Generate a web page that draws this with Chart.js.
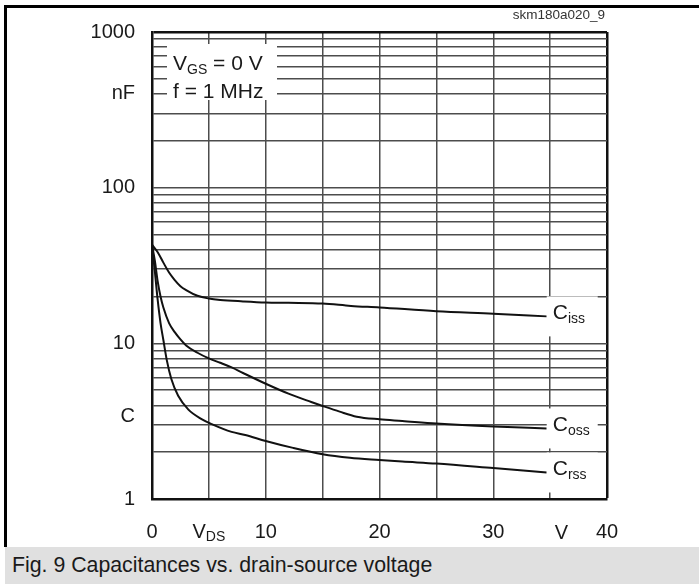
<!DOCTYPE html>
<html>
<head>
<meta charset="utf-8">
<script src="https://cdn.jsdelivr.net/npm/chart.js@4.4.1/dist/chart.umd.min.js"></script>
<style>
  html, body { margin: 0; padding: 0; background: #fff; }
  body {
    width: 699px; height: 584px; position: relative; overflow: hidden;
    font-family: "Liberation Sans", Arial, sans-serif;
  }
  #c { position: absolute; left: 0; top: 0; }
  #frame {
    position: absolute; left: 4px; top: 5px; right: 0; height: 542px;
    box-sizing: border-box; border-left: 3px solid #000; border-top: 3px solid #000;
    pointer-events: none;
  }
  #code {
    position: absolute; right: 94px; top: 8px; font-size: 13.5px; line-height: 14px; color: #333;
  }
  #caption {
    position: absolute; left: 5px; top: 547px; right: 0; height: 37px;
    background: #e0e0e0; color: #1a1a1a; font-size: 21.3px; line-height: 37px; padding-left: 7px;
  }
</style>
</head>
<body>
<canvas id="c" width="699" height="547"></canvas>
<div id="frame"></div>
<div id="code">skm180a020_9</div>
<div id="caption">Fig. 9 Capacitances vs. drain-source voltage</div>
<script>
  "use strict";

  const FONT = '"Liberation Sans", Arial, sans-serif';
  const INK = "#1a1a1a";

  // Ciss, Coss, Crss in nF against V_DS in V
  const cissV = [0, 0.5, 1, 1.5, 2, 2.5, 3, 4, 5, 6, 8, 10, 12, 15, 17.5, 20, 25, 30, 34.7];
  const cissC = [43, 38.5, 33, 28.5, 25.5, 23.3, 22, 20.2, 19.4, 19, 18.6, 18.3, 18.2, 18.0, 17.4, 17.0, 16.1, 15.5, 14.9];

  const cossV = [0, 0.25, 0.5, 0.75, 1, 1.5, 2, 2.5, 3, 4, 5, 6, 7, 8, 10, 12, 14, 15, 16.5, 18, 20, 22, 25, 30, 34.7];
  const cossC = [43, 34, 25, 20, 17, 13.5, 11.8, 10.6, 9.7, 8.7, 8.0, 7.5, 7.0, 6.45, 5.5, 4.75, 4.2, 3.96, 3.64, 3.38, 3.25, 3.17, 3.05, 2.92, 2.84];

  const crssV = [0, 0.25, 0.5, 0.75, 1, 1.3, 1.7, 2.3, 3.2, 4.4, 5.25, 7, 8.2, 10, 12.4, 15, 17.4, 20, 22, 25, 30, 34.7];
  const crssC = [43, 29, 19, 13.5, 10.5, 7.8, 5.9, 4.6, 3.75, 3.25, 3.03, 2.7, 2.58, 2.36, 2.13, 1.94, 1.84, 1.78, 1.74, 1.69, 1.58, 1.48];

  const seriesSubs = ["iss", "oss", "rss"];

  // axes
  const yGridValues = [1, 2, 3, 4, 5, 6, 7, 8, 9, 10, 20, 30, 40, 50, 60, 70, 80, 90,
    100, 200, 300, 400, 500, 600, 700, 800, 900, 1000];
  const yLabelValues = [1, 3.4, 10, 100, 400, 1000];
  const yLabelTexts = ["1", "C", "10", "100", "nF", "1000"];
  const xLabelValues = [0, 10, 20, 30, 40];
  const xLabelTexts = ["0", "10", "20", "30", "40"];
  const xTitleValues = [5, 36];

  function pts(xs, ys) {
    return xs.map((x, i) => ({ x: x, y: ys[i] }));
  }

  function curve(xs, ys) {
    return {
      data: pts(xs, ys),
      borderColor: "#111",
      borderWidth: 2,
      pointRadius: 0,
      fill: false,
      cubicInterpolationMode: "monotone",
    };
  }

  // main text, lowered smaller subscript, then optional tail
  function subText(ctx, x, y, main, sub, tail, size) {
    ctx.textAlign = "left";
    ctx.textBaseline = "middle";
    ctx.font = size + "px " + FONT;
    ctx.fillText(main, x, y);
    let w = ctx.measureText(main).width;
    const ss = Math.round(size * 0.68);
    ctx.font = ss + "px " + FONT;
    ctx.fillText(sub, x + w, y + size * 0.27);
    w += ctx.measureText(sub).width;
    if (tail) {
      ctx.font = size + "px " + FONT;
      ctx.fillText(tail, x + w, y);
      w += ctx.measureText(tail).width;
    }
    return w;
  }

  function measureSub(ctx, main, sub, size) {
    ctx.font = size + "px " + FONT;
    let w = ctx.measureText(main).width;
    ctx.font = Math.round(size * 0.68) + "px " + FONT;
    return w + ctx.measureText(sub).width;
  }

  const notes = {
    id: "notes",
    afterDatasetsDraw(chart) {
      const ctx = chart.ctx;
      const a = chart.chartArea;
      const sx = chart.scales.x;
      const sy = chart.scales.y;
      ctx.save();

      // condition box, upper left
      ctx.fillStyle = "#fff";
      ctx.fillRect(a.left + 15, a.top + 12, 110, 56);
      ctx.fillStyle = INK;
      subText(ctx, a.left + 21, a.top + 32, "V", "GS", " = 0 V", 21);
      ctx.font = "21px " + FONT;
      ctx.fillText("f = 1 MHz", a.left + 21, a.top + 60);

      // curve names at the right ends
      chart.data.datasets.forEach((ds, i) => {
        const last = ds.data[ds.data.length - 1];
        const px = sx.getPixelForValue(last.x);
        const py = sy.getPixelForValue(last.y);
        ctx.fillStyle = "#fff";
        ctx.fillRect(px, py - 20, 51, 40);
        ctx.fillStyle = INK;
        subText(ctx, px + 6, py - 3, "C", seriesSubs[i], "", 21);
      });

      // axis names inside the tick row
      const ty = a.bottom + 33;
      ctx.fillStyle = INK;
      const wds = measureSub(ctx, "V", "DS", 20);
      subText(ctx, sx.getPixelForValue(xTitleValues[0]) - wds / 2, ty, "V", "DS", "", 20);
      ctx.font = "20px " + FONT;
      ctx.textAlign = "center";
      ctx.fillText("V", sx.getPixelForValue(xTitleValues[1]), ty + 1);
      ctx.restore();
    },
  };

  const GRID = "#4d4d4d";
  const EDGE = "#111";

  new Chart(document.getElementById("c"), {
    type: "line",
    data: {
      datasets: [curve(cissV, cissC), curve(cossV, cossC), curve(crssV, crssC)],
    },
    options: {
      responsive: false,
      animation: false,
      layout: { padding: { left: 0, top: 32, right: 92, bottom: 0 } },
      plugins: { legend: { display: false }, tooltip: { enabled: false } },
      scales: {
        x: {
          type: "linear",
          min: 0,
          max: 40,
          afterFit: function (s) { s.height = 48; },
          border: { display: true, color: EDGE, width: 2.5 },
          grid: {
            drawTicks: false,
            tickLength: 0,
            color: (c) => (c.tick && c.tick.value === 40 ? EDGE : GRID),
            lineWidth: (c) => (c.tick && c.tick.value === 40 ? 2.5 : 1.5),
          },
          ticks: {
            stepSize: 5,
            autoSkip: false,
            maxRotation: 0,
            padding: 21,
            color: INK,
            font: { family: FONT, size: 20 },
            callback: function (v) {
              const i = xLabelValues.indexOf(v);
              return i >= 0 ? xLabelTexts[i] : "";
            },
          },
        },
        y: {
          type: "logarithmic",
          min: 1,
          max: 1000,
          afterFit: function (s) { s.width = 152; },
          afterBuildTicks: function (s) {
            const vals = yGridValues.concat(yLabelValues.filter((v) => yGridValues.indexOf(v) < 0));
            s.ticks = vals.sort((p, q) => p - q).map((v) => ({ value: v }));
          },
          border: { display: true, color: EDGE, width: 2.5 },
          grid: {
            drawTicks: false,
            tickLength: 0,
            color: (c) => {
              if (!c.tick) return GRID;
              if (yGridValues.indexOf(c.tick.value) < 0) return "rgba(0,0,0,0)";
              return c.tick.value === 1000 ? EDGE : GRID;
            },
            lineWidth: (c) => (c.tick && c.tick.value === 1000 ? 2.5 : 1.5),
          },
          ticks: {
            autoSkip: false,
            padding: 17,
            color: INK,
            font: { family: FONT, size: 20 },
            callback: function (v) {
              const i = yLabelValues.indexOf(v);
              return i >= 0 ? yLabelTexts[i] : "";
            },
          },
        },
      },
    },
    plugins: [notes],
  });
</script>
</body>
</html>
